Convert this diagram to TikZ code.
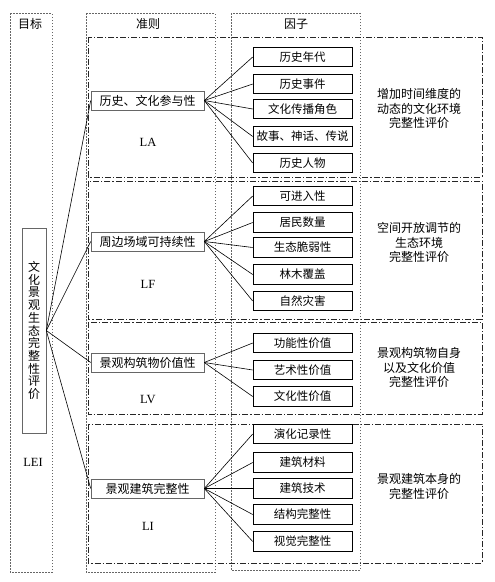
\documentclass[tikz,border=0pt]{standalone}
\usepackage{fontspec}
\setmainfont{Liberation Serif}
\newfontfamily\cjk{Noto Sans CJK SC}
\begin{document}
\begin{tikzpicture}[x=1pt,y=-1pt,
  colbox/.style={draw=black!60, line width=0.5pt, dash pattern=on 1.5pt off 1.5pt},
  grpbox/.style={draw=black!85, line width=0.8pt, dash pattern=on 6pt off 2pt on 1.2pt off 2pt},
  head/.style={font=\cjk\fontsize{12}{14}\selectfont, inner sep=0pt},
  crit/.style={draw=black!60, line width=0.6pt, minimum width=113pt, minimum height=19pt, inner sep=0pt, font=\cjk\fontsize{12}{14}\selectfont},
  fac/.style={draw=black, line width=0.6pt, minimum width=99pt, minimum height=19.5pt, inner sep=0pt, font=\cjk\fontsize{11.5}{13}\selectfont},
  desc/.style={align=center, inner sep=0pt, font=\cjk\fontsize{12}{14.2}\selectfont},
  code/.style={inner sep=0pt, font=\fontsize{12.5}{14}\selectfont},
  link/.style={draw=black, line width=0.6pt}]
\useasboundingbox (0,0) rectangle (495,582);
% columns
\draw[colbox] (10,13) rectangle (52,572);
\draw[colbox] (86,13) rectangle (215,572);
\draw[colbox] (231,13) rectangle (360,570);
\node[head] (h1) at (30,24) {目标};
\node[head] (h2) at (148,24) {准则};
\node[head] (h3) at (296,24) {因子};
% groups
\draw[grpbox] (88,37) rectangle (482,177);
\draw[grpbox] (88,181) rectangle (482,319);
\draw[grpbox] (88,322) rectangle (482,414);
\draw[grpbox] (88,424) rectangle (482,563);
% target
\node[draw=black!60, line width=0.6pt, minimum width=24pt, minimum height=205pt, inner sep=0pt, align=center, font=\cjk\fontsize{12}{12.7}\selectfont] (T) at (34,330.5)
  {文\\化\\景\\观\\生\\态\\完\\整\\性\\评\\价};
\node[code] (LEI) at (33,462) {LEI};
% criteria
\node[crit] (A) at (147.5,100.5) {历史、文化参与性};
\node[crit] (F) at (147.5,241.5) {周边场域可持续性};
\node[crit] (V) at (147.5,362.5) {景观构筑物价值性};
\node[crit] (I) at (147.5,488.5) {景观建筑完整性};
\node[code] (LA) at (148,142) {LA};
\node[code] (LF) at (148,284) {LF};
\node[code] (LV) at (148,399) {LV};
\node[code] (LI) at (148,526) {LI};
% factors
\node[fac] (a1) at (302.5,57) {历史年代};
\node[fac] (a2) at (302.5,84) {历史事件};
\node[fac] (a3) at (302.5,109) {文化传播角色};
\node[fac] (a4) at (302.5,136.5) {故事、神话、传说};
\node[fac] (a5) at (302.5,163) {历史人物};
\node[fac] (f1) at (302.5,196) {可进入性};
\node[fac] (f2) at (302.5,222.5) {居民数量};
\node[fac] (f3) at (302.5,247.5) {生态脆弱性};
\node[fac] (f4) at (302.5,274.5) {林木覆盖};
\node[fac] (f5) at (302.5,301) {自然灾害};
\node[fac] (v1) at (302.5,343) {功能性价值};
\node[fac] (v2) at (302.5,370) {艺术性价值};
\node[fac] (v3) at (302.5,396.5) {文化性价值};
\node[fac] (i1) at (302.5,434) {演化记录性};
\node[fac] (i2) at (302.5,462.5) {建筑材料};
\node[fac] (i3) at (302.5,488.5) {建筑技术};
\node[fac] (i4) at (302.5,514.5) {结构完整性};
\node[fac] (i5) at (302.5,541.5) {视觉完整性};
% descriptions
\node[desc] (dA) at (419,108.5) {增加时间维度的\\动态的文化环境\\完整性评价};
\node[desc] (dF) at (419,242.5) {空间开放调节的\\生态环境\\完整性评价};
\node[desc] (dV) at (419,367.5) {景观构筑物自身\\以及文化价值\\完整性评价};
\node[desc] (dI) at (419,486.5) {景观建筑本身的\\完整性评价};
% connectors
\foreach \c in {A,F,V,I} \draw[link] (T.east) -- (\c.west);
\foreach \f in {a1,a2,a3,a4,a5} \draw[link] (A.east) -- (\f.west);
\foreach \f in {f1,f2,f3,f4,f5} \draw[link] (F.east) -- (\f.west);
\foreach \f in {v1,v2,v3} \draw[link] (V.east) -- (\f.west);
\foreach \f in {i1,i2,i3,i4,i5} \draw[link] (I.east) -- (\f.west);
\end{tikzpicture}
\end{document}
